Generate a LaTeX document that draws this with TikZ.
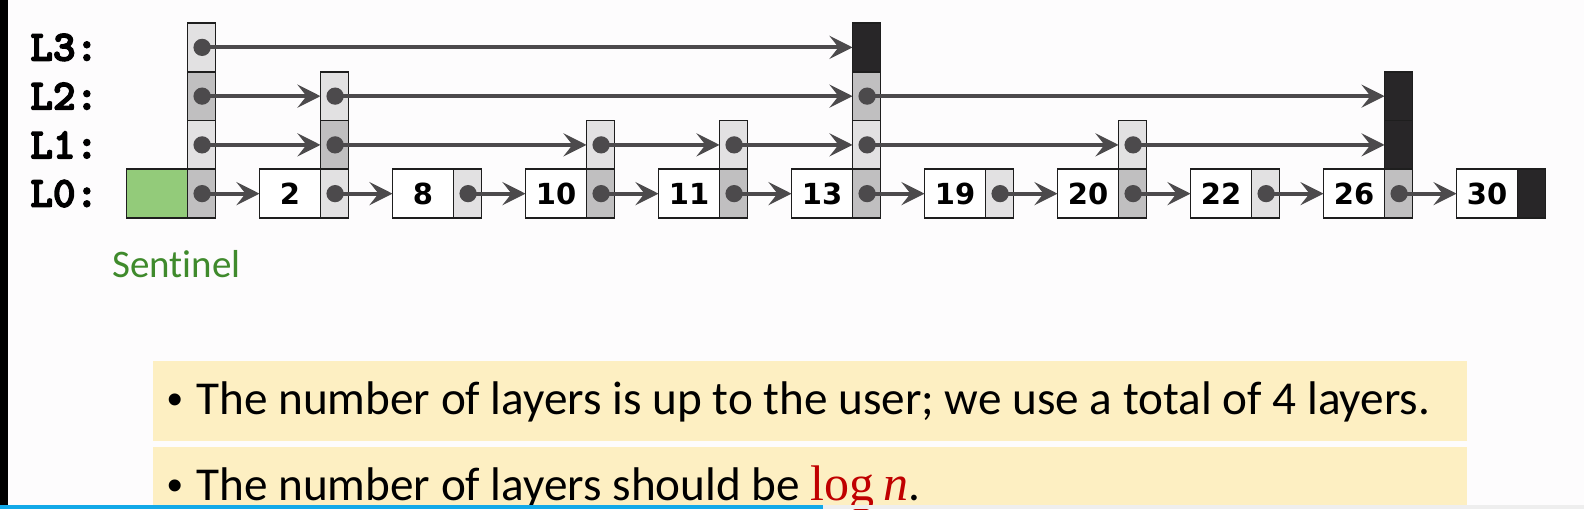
\documentclass[tikz,border=0pt]{standalone}
\usepackage{fontspec}
\setmainfont{Carlito}
\newfontfamily\sentfont{Carlito}[Ligatures=NoCommon]
\newfontfamily\numfont{DejaVu Sans}
\newfontfamily\serfont{Liberation Serif}
\newfontfamily\bulfont{Liberation Sans}
\newfontfamily\lblfont{lmmonolt10-bold.otf}[FakeBold=3.5]
\usetikzlibrary{arrows.meta}
\definecolor{bg}{HTML}{FDFCFD}
\definecolor{cellline}{HTML}{1E1E1E}
\definecolor{celllight}{HTML}{E2E1E2}
\definecolor{celldark}{HTML}{C0BFC0}
\definecolor{cellblack}{HTML}{282628}
\definecolor{sentgreen}{HTML}{93CB7A}
\definecolor{senttext}{HTML}{3F8A2C}
\definecolor{linkc}{HTML}{4C4A4C}
\definecolor{notefill}{HTML}{FDEFC2}
\definecolor{logred}{HTML}{C00000}
\definecolor{barblue}{HTML}{12A9E8}
\definecolor{bargrey}{HTML}{EEEEEE}
\tikzset{
  cellbase/.style={draw=cellline, line width=0.9pt, inner sep=0pt, outer sep=0pt,
    anchor=north west, minimum height=24.375pt},
  valbox/.style={cellbase, fill=white, minimum width=30.5pt,
    font=\numfont\bfseries\fontsize{14.5pt}{14.5pt}\selectfont},
  sentbox/.style={cellbase, fill=sentgreen, minimum width=30.5pt},
  ptrbox/.style={cellbase, minimum width=14pt},
  light/.style={ptrbox, fill=celllight},
  dark/.style={ptrbox, fill=celldark},
  nullc/.style={ptrbox, fill=cellblack},
  link/.style={draw=linkc, line width=2.1pt, shorten <=-4pt,
    {Circle[length=8.6pt,width=8.6pt]}-{Stealth[length=11.5pt,width=11.5pt,inset=4.5pt]}},
  lbl/.style={anchor=west, inner sep=0pt, font=\lblfont\fontsize{21.5pt}{21.5pt}\selectfont},
  bullet/.style={anchor=base west, inner sep=0pt, font=\fontsize{23.6pt}{23.6pt}\selectfont},
}
\newcommand{\blt}{\makebox[14.5pt][l]{\bulfont\fontsize{22pt}{22pt}\selectfont\textbullet}}
\begin{document}
\begin{tikzpicture}[x=0.5pt,y=-0.5pt]
\fill[bg] (0,0) rectangle (1584,509);
\useasboundingbox (0,0) rectangle (1584,509);
\fill[black] (0,0) rectangle (8,505);

% level labels
\node[lbl] (lab3) at (30,47.4) {L3:};
\node[lbl] (lab2) at (30,96.1) {L2:};
\node[lbl] (lab1) at (30,144.9) {L1:};
\node[lbl] (lab0) at (30,193.6) {L0:};

% value boxes
\node[sentbox] (v0) at (126.5,169.25) {};
\foreach \i/\val in {1/2,2/8,3/10,4/11,5/13,6/19,7/20,8/22,9/26,10/30}
  \node[valbox] (v\i) at ({126.5+133*\i},169.25) {\val};

% pointer cells
\foreach \i/\k/\s in {0/0/dark,0/1/light,0/2/dark,0/3/light,
    1/0/light,1/1/dark,1/2/light,
    2/0/light,
    3/0/dark,3/1/light,
    4/0/dark,4/1/light,
    5/0/dark,5/1/light,5/2/dark,5/3/nullc,
    6/0/light,
    7/0/dark,7/1/light,
    8/0/light,
    9/0/dark,9/1/nullc,9/2/nullc,
    10/0/nullc}
  \node[\s] (p\i-\k) at ({187.5+133*\i},{169.25-48.75*\k}) {};

% level 0 links
\foreach \a/\b in {0/1,1/2,2/3,3/4,4/5,5/6,6/7,7/8,8/9,9/10}
  \draw[link] (p\a-0.center) -- (v\b.west);
% level 1 links
\foreach \a/\b in {0/1,1/3,3/4,4/5,5/7,7/9}
  \draw[link] (p\a-1.center) -- (p\b-1.west);
% level 2 links
\foreach \a/\b in {0/1,1/5,5/9}
  \draw[link] (p\a-2.center) -- (p\b-2.west);
% level 3 link
\draw[link] (p0-3.center) -- (p5-3.west);

\node[anchor=base west, inner sep=0pt, text=senttext,
  font=\sentfont\fontsize{19.5pt}{19.5pt}\selectfont] (sent) at (112,277) {Sentinel};

% notes
\fill[notefill] (153,360.5) rectangle (1467,441);
\fill[notefill] (153,447) rectangle (1467,509);
\node[bullet] (note1) at (167,414) {\blt The number of layers is up to the user; we use a total of 4 layers.};
\node[bullet] (note2) at (167,500) {\blt The number of layers should be {\color{logred}\serfont\fontsize{25pt}{25pt}\selectfont log\,\textit{n}}.};

\fill[barblue] (0,505) rectangle (823,509);
\fill[bargrey] (823,505) rectangle (1584,509);
\end{tikzpicture}
\end{document}
